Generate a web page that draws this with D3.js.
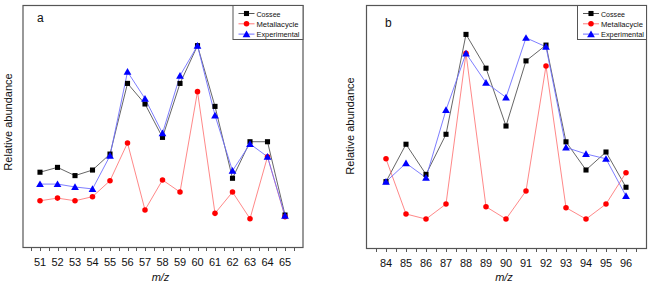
<!DOCTYPE html>
<html><head><meta charset="utf-8">
<script src="https://cdn.jsdelivr.net/npm/d3@7/dist/d3.min.js"></script>
<style>body{margin:0;background:#fff}svg{display:block}text{font-family:"Liberation Sans",Arial,sans-serif}</style>
</head><body>
<svg id="c" width="655" height="288"></svg>
<script>
// Panel a
const mzA = [51,52,53,54,55,56,57,58,59,60,61,62,63,64,65];
const cosseeA = [30.9,32.9,29.5,31.8,38.4,67.6,59.1,45.3,67.6,83.2,58.1,28.4,43.5,43.5,13.2];
const metallaA = [19.1,20.2,19.1,20.8,27.4,43.0,15.3,27.7,22.7,64.2,13.9,22.7,11.7,37.3,12.5];
const experA = [26.0,26.0,24.8,24.0,37.7,72.4,61.3,47.0,70.8,83.2,54.4,31.5,42.6,37.3,12.9];
// Panel b
const mzB = [84,85,86,87,88,89,90,91,92,93,94,95,96];
const cosseeB = [27.3,42.7,30.3,46.8,87.9,74.0,50.2,77.0,83.5,43.7,32.1,39.5,25.0];
const metallaB = [36.7,14.0,11.9,18.1,80.1,17.0,11.9,23.5,74.9,16.6,11.9,18.1,31.0];
const experB = [27.3,34.9,28.9,56.8,80.1,68.0,62.0,86.5,82.8,41.4,38.7,36.7,21.4];
const seriesNames = ["Cossee","Metallacycle","Experimental"];

const svg = d3.select("#c");
const styles = [
  {line:"#555", fill:"#000", shape:d3.symbolSquare, size:26},
  {line:"#ff7a7a", fill:"#ff0000", shape:d3.symbolCircle, size:24},
  {line:"#6f6fff", fill:"#0000ff", shape:d3.symbolTriangle, size:26}
];

function panel(opt){
  const g = svg.append("g");
  const x = d3.scaleLinear().domain(opt.xd).range([opt.l, opt.r]);
  const y = d3.scaleLinear().domain([0,100]).range([opt.b, opt.t]);
  // ticks
  const minor = d3.range(opt.xd[0]+0.5, opt.xd[1], 0.5);
  g.selectAll("line.tk").data(minor).join("line")
    .attr("x1", d=>Math.round(x(d))+0.5).attr("x2", d=>Math.round(x(d))+0.5)
    .attr("y1", opt.b).attr("y2", opt.b+4)
    .attr("stroke","#555").attr("stroke-width",1);
  g.selectAll("text.tl").data(opt.mz).join("text")
    .attr("x", d=>x(d)).attr("y", opt.b+19).attr("text-anchor","middle")
    .attr("font-size",11).attr("fill","#111").text(d=>d);
  // frame
  g.append("rect").attr("x",opt.l+0.5).attr("y",opt.t+0.5)
    .attr("width",opt.r-opt.l).attr("height",opt.b-opt.t)
    .attr("fill","none").attr("stroke","#555").attr("stroke-width",1.2);
  // series
  const data = [opt.c, opt.m, opt.e];
  const line = d3.line().x((d,i)=>x(opt.mz[i])).y(d=>y(d));
  data.forEach((vals,k)=>{
    g.append("path").attr("d", line(vals)).attr("fill","none")
      .attr("stroke", styles[k].line).attr("stroke-width",0.9);
  });
  data.forEach((vals,k)=>{
    g.selectAll(null).data(vals).join("path")
      .attr("transform",(d,i)=>`translate(${x(opt.mz[i])},${y(d)+(k==2?0.8:0)})`)
      .attr("d", d3.symbol().type(styles[k].shape).size(styles[k].size)())
      .attr("fill", styles[k].fill);
  });
  // legend
  const lg = g.append("g");
  lg.append("rect").attr("x",opt.lgx+0.5).attr("y",opt.t+0.5)
    .attr("width",opt.r-opt.lgx).attr("height",34)
    .attr("fill","#fff").attr("stroke","#555").attr("stroke-width",1);
  seriesNames.forEach((nm,k)=>{
    const yy = opt.t + 8.5 + k*10.3;
    lg.append("line").attr("x1",opt.lgx+6).attr("x2",opt.lgx+22).attr("y1",yy).attr("y2",yy)
      .attr("stroke", styles[k].line).attr("stroke-width",1);
    lg.append("path").attr("transform",`translate(${opt.lgx+14},${yy+(k==2?0.8:0)})`)
      .attr("d", d3.symbol().type(styles[k].shape).size(styles[k].size)())
      .attr("fill", styles[k].fill);
    lg.append("text").attr("x",opt.lgx+24).attr("y",yy+3).attr("font-size",8)
      .attr("fill","#111").attr("textLength", [24,42,43][k]).attr("lengthAdjust","spacingAndGlyphs").text(nm);
  });
  // labels
  g.append("text").attr("x",opt.lab[0]).attr("y",opt.lab[1]).attr("font-size",12).attr("fill","#111").text(opt.name);
  g.append("text").attr("transform",`translate(${opt.yl[0]},${opt.yl[1]}) rotate(-90)`)
    .attr("text-anchor","middle").attr("font-size",11).attr("fill","#111").text("Relative abundance");
  const xl = g.append("text").attr("x",(opt.l+opt.r)/2-2).attr("y",281).attr("text-anchor","middle")
    .attr("font-size",11).attr("font-style","italic").attr("fill","#111").text("m/z");
}

panel({xd:[50,66], l:22.5, r:302.5, t:5, b:247, mz:mzA, c:cosseeA, m:metallaA, e:experA,
       lgx:232.5, lab:[37,21.5], name:"a", yl:[12,122]});
panel({xd:[83,97], l:366, r:646, t:5, b:248, mz:mzB, c:cosseeB, m:metallaB, e:experB,
       lgx:577, lab:[385,26.5], name:"b", yl:[354,126]});
</script>
</body></html>
